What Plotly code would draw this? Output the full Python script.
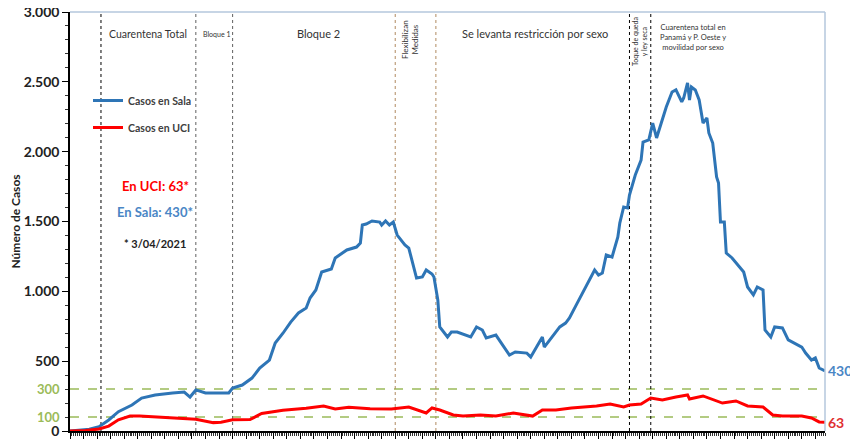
import plotly.graph_objects as go

# ---------------- data ----------------
sala_dates = [
    "2020-03-09", "2020-03-14", "2020-03-19", "2020-03-24", "2020-03-29", "2020-04-03", "2020-04-10",
    "2020-04-15", "2020-04-22", "2020-05-01", "2020-05-07", "2020-05-10", "2020-05-13", "2020-05-18",
    "2020-05-25", "2020-05-30", "2020-06-01", "2020-06-06", "2020-06-11", "2020-06-15", "2020-06-20",
    "2020-06-23", "2020-06-27", "2020-07-01", "2020-07-05", "2020-07-09", "2020-07-11", "2020-07-14",
    "2020-07-17", "2020-07-22", "2020-07-24", "2020-07-30", "2020-08-04", "2020-08-06", "2020-08-07",
    "2020-08-09", "2020-08-12", "2020-08-16", "2020-08-17", "2020-08-19", "2020-08-21", "2020-08-23",
    "2020-08-25", "2020-08-29", "2020-08-31", "2020-09-04", "2020-09-07", "2020-09-09", "2020-09-12",
    "2020-09-13", "2020-09-15", "2020-09-16", "2020-09-20", "2020-09-22", "2020-09-25", "2020-10-02",
    "2020-10-05", "2020-10-08", "2020-10-10", "2020-10-15", "2020-10-22", "2020-10-25", "2020-10-31",
    "2020-11-02", "2020-11-05", "2020-11-08", "2020-11-09", "2020-11-13", "2020-11-17", "2020-11-20",
    "2020-11-22", "2020-11-26", "2020-12-01", "2020-12-05", "2020-12-07", "2020-12-09", "2020-12-11",
    "2020-12-14", "2020-12-17", "2020-12-18", "2020-12-20", "2020-12-22", "2020-12-23", "2020-12-26",
    "2020-12-29", "2020-12-30", "2021-01-02", "2021-01-04", "2021-01-06", "2021-01-09", "2021-01-11",
    "2021-01-14", "2021-01-16", "2021-01-19", "2021-01-20", "2021-01-22", "2021-01-23", "2021-01-24",
    "2021-01-26", "2021-01-28", "2021-01-30", "2021-02-01", "2021-02-02", "2021-02-04", "2021-02-06",
    "2021-02-07", "2021-02-08", "2021-02-10", "2021-02-11", "2021-02-14", "2021-02-16", "2021-02-20",
    "2021-02-22", "2021-02-25", "2021-02-27", "2021-03-02", "2021-03-03", "2021-03-06", "2021-03-08",
    "2021-03-12", "2021-03-15", "2021-03-22", "2021-03-24", "2021-03-27", "2021-03-29", "2021-03-31",
    "2021-04-03",
]
sala_values = [
    0, 5, 12, 31, 79, 138, 186,
    236, 258, 272, 279, 243, 294, 272,
    272, 272, 308, 329, 379, 451, 508,
    630, 700, 780, 845, 880, 952, 1010,
    1138, 1160, 1239, 1296, 1317, 1346, 1475,
    1482, 1504, 1496, 1475, 1504, 1475, 1496,
    1403, 1332, 1310, 1095, 1103, 1153, 1124,
    1103, 938, 745, 673, 709, 709, 673,
    745, 723, 666, 687, 544, 566, 558,
    530, 601, 673, 601, 673, 745, 773,
    809, 916, 1045, 1153, 1117, 1131, 1260,
    1246, 1389, 1489, 1604, 1597, 1690, 1833,
    1940, 2069, 2084, 2205, 2098, 2227, 2320,
    2427, 2442, 2356, 2384, 2492, 2370, 2463,
    2442, 2370, 2205, 2241, 2134, 2062, 1819,
    1776, 1496, 1496, 1274, 1239, 1203, 1138,
    1031, 974, 1031, 1010, 723, 673, 745,
    738, 652, 601, 558, 508, 523, 451,
    430,
]

uci_dates = [
    "2020-03-09", "2020-03-17", "2020-03-24", "2020-03-29", "2020-04-03", "2020-04-09", "2020-04-14",
    "2020-04-23", "2020-05-01", "2020-05-07", "2020-05-13", "2020-05-22", "2020-05-26", "2020-06-01",
    "2020-06-10", "2020-06-16", "2020-06-27", "2020-07-09", "2020-07-18", "2020-07-24", "2020-07-31",
    "2020-08-11", "2020-08-22", "2020-08-31", "2020-09-09", "2020-09-12", "2020-09-16", "2020-09-23",
    "2020-09-28", "2020-10-07", "2020-10-15", "2020-10-24", "2020-11-03", "2020-11-08", "2020-11-15",
    "2020-11-23", "2020-12-06", "2020-12-13", "2020-12-20", "2020-12-23", "2020-12-29", "2021-01-03",
    "2021-01-09", "2021-01-16", "2021-01-22", "2021-01-23", "2021-01-30", "2021-02-09", "2021-02-16",
    "2021-02-22", "2021-03-02", "2021-03-07", "2021-03-12", "2021-03-22", "2021-03-27", "2021-03-31",
    "2021-04-03",
]
uci_values = [
    0, 3, 14, 35, 80, 107, 107,
    100, 93, 90, 84, 60, 62, 80,
    82, 125, 148, 163, 179, 158, 170,
    160, 158, 172, 129, 165, 150, 115,
    107, 115, 107, 129, 107, 150, 150,
    165, 179, 193, 172, 186, 193, 236,
    222, 243, 258, 229, 251, 200, 215,
    179, 172, 115, 107, 107, 93, 65,
    63,
]

phase_dates = ["2020-03-25", "2020-05-13", "2020-06-01", "2020-08-24", "2020-09-14", "2020-12-23", "2021-01-03"]
phase_colors = ["#000000", "#606060", "#606060", "#b08a60", "#b08a60", "#000000", "#000000"]

ref_levels = [300, 100]
y_ticks = [0, 500, 1000, 1500, 2000, 2500, 3000]

x_start, x_end = "2020-03-09", "2021-04-03"

BLUE = "#2e75b6"
RED = "#ff0000"
GREEN = "#9bbb59"
FONT = "Lato"

fig = go.Figure()
fig.add_trace(go.Scatter(x=sala_dates, y=sala_values, mode="lines", name="Casos en Sala",
                         line=dict(color=BLUE, width=3), legendgroup="a"))
fig.add_trace(go.Scatter(x=uci_dates, y=uci_values, mode="lines", name="Casos en UCI",
                         line=dict(color=RED, width=3), legendgroup="b"))

# green reference lines
for lv in ref_levels:
    fig.add_shape(type="line", xref="paper", x0=0, x1=1, yref="y", y0=lv, y1=lv,
                  line=dict(color=GREEN, width=1.5, dash="dash"), layer="below")
    fig.add_annotation(xref="paper", x=0, xanchor="right", xshift=-8, yref="y", y=lv,
                       yanchor="middle", text=f"<b>{lv}</b>", showarrow=False,
                       font=dict(color=GREEN, size=13, family=FONT))

# phase vertical lines
for d, c in zip(phase_dates, phase_colors):
    fig.add_shape(type="line", xref="x", x0=d, x1=d, yref="paper", y0=0, y1=1,
                  line=dict(color=c, width=1, dash="dot"), layer="below")

# frame top & right
fig.add_shape(type="line", xref="paper", x0=0, x1=1, yref="paper", y0=1, y1=1,
              line=dict(color="#b4c7dc", width=1.5))
fig.add_shape(type="line", xref="paper", x0=1, x1=1, yref="paper", y0=0, y1=1,
              line=dict(color="#b4c7dc", width=1.5))

def ann(x, y, text, size, color="#333333", angle=0, **kw):
    fig.add_annotation(xref="paper", yref="paper", x=x, y=y, xanchor="center", yanchor="middle",
                       text=text, showarrow=False, textangle=angle,
                       font=dict(size=size, color=color, family=FONT), **kw)

# pixel helpers for label placement (plot area 70..825 x, 12..431 y in the window)
def px(xp):
    return (xp - 70) / 755
def py(yp):
    return (431 - yp) / 419

ann(px(148), py(34), "Cuarentena Total", 10.5)
ann(px(216), py(34), "Bloque 1", 7)
ann(px(318), py(34), "Bloque 2", 11)
ann(px(410), py(40), "Flexibilizan<br>Medidas", 8, angle=-90)
ann(px(535), py(34), "Se levanta restricción por sexo", 11)
ann(px(639), py(42), "Toque de queda<br>y ley seca", 7, angle=-90)
ann(px(693), py(38), "Cuarentena total en<br>Panamá y P. Oeste y<br>movilidad por sexo", 7.5)

ann(px(155), py(186), "<b>En UCI: 63*</b>", 13, color=RED)
ann(px(155), py(212), "<b>En Sala: 430*</b>", 13, color="#4a86c5")
ann(px(155), py(244), "<b>* 3/04/2021</b>", 11, color="#222222")

fig.add_annotation(xref="paper", x=1, xanchor="left", xshift=1, yref="y", y=sala_values[-1],
                   yanchor="middle", text=f"<b>{sala_values[-1]}</b>", showarrow=False,
                   font=dict(size=14, color="#4a86c5", family=FONT))
fig.add_annotation(xref="paper", x=1, xanchor="left", xshift=1, yref="y", y=uci_values[-1],
                   yanchor="middle", text=f"<b>{uci_values[-1]}</b>", showarrow=False,
                   font=dict(size=14, color="#e03030", family=FONT))

# page body has an 8px margin: figure is 850x432 so it fits the 858x440 window
fig.update_layout(
    width=850, height=432,
    margin=dict(l=62, r=33, t=4, b=9),
    paper_bgcolor="white", plot_bgcolor="white",
    separators=",.",
    font=dict(family=FONT),
    showlegend=True,
    legend=dict(x=px(88), y=py(86), xanchor="left", yanchor="top",
                font=dict(size=10.5, color="#404040", weight="bold", family=FONT),
                bgcolor="rgba(0,0,0,0)", tracegroupgap=8, itemwidth=30),
    xaxis=dict(type="date", range=[x_start, x_end], showgrid=False, zeroline=False,
               automargin=False,
               showline=True, linecolor="black", linewidth=1.5,
               ticks="outside", ticklen=6, tickcolor="black", dtick=7 * 86400000,
               tick0="2020-03-09", showticklabels=False,
               minor=dict(ticks="outside", ticklen=3, dtick=86400000, tickcolor="#333333")),
    yaxis=dict(range=[0, 3000], showgrid=False, zeroline=False, automargin=False,
               showline=True, linecolor="black", linewidth=1.5,
               tickvals=y_ticks, tickformat=",d", ticks="outside", ticklen=6, tickcolor="black",
               ticklabeloverflow="allow",
               tickfont=dict(size=14, color="#222222", weight="bold", family=FONT),
               minor=dict(ticks="outside", ticklen=3, dtick=100, tickcolor="#333333"),
               title=dict(text="<b>Número de Casos</b>", font=dict(size=12, color="#222222", family=FONT),
                          standoff=4)),
)

fig.write_html("out.html")
